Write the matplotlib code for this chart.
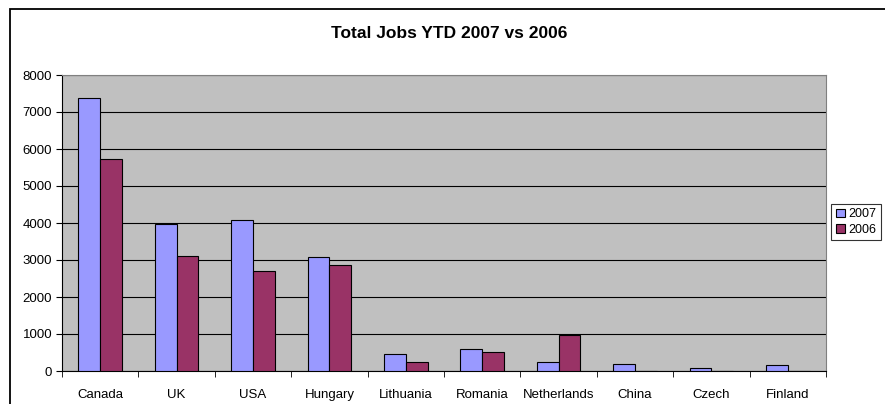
import numpy as np
import matplotlib.pyplot as plt
from matplotlib.patches import Rectangle

plt.rcParams['font.family'] = ['Liberation Sans', 'DejaVu Sans']

countries = ["Canada", "UK", "USA", "Hungary", "Lithuania", "Romania",
             "Netherlands", "China", "Czech", "Finland"]
jobs_2007 = [7370, 3970, 4090, 3080, 460, 590, 240, 200, 70, 170]
jobs_2006 = [5730, 3110, 2700, 2860, 240, 510, 970, 0, 0, 0]
series_labels = ["2007", "2006"]
yticks = [0, 1000, 2000, 3000, 4000, 5000, 6000, 7000, 8000]

W, H = 885, 404
fig = plt.figure(figsize=(W / 100, H / 100), dpi=100)
ax = fig.add_axes([62 / W, 1 - 371 / H, (826 - 62) / W, (371 - 75) / H])

# outer chart frame (cut off at right/bottom like the reference)
fig.patches.append(Rectangle((9.5 / W, -0.1), 1.2, 1 - 8.5 / H + 0.1,
                             transform=fig.transFigure, fill=False,
                             edgecolor="black", lw=1.3))

x = np.arange(len(countries))
bw = 1 / 3.5
ax.set_facecolor("#C0C0C0")
ax.bar(x - bw / 2, jobs_2007, bw, color="#9999FF", edgecolor="black",
       lw=0.8, label=series_labels[0], zorder=3)
ax.bar(x + bw / 2, jobs_2006, bw, color="#993366", edgecolor="black",
       lw=0.8, label=series_labels[1], zorder=3)

ax.set_xlim(-0.5, len(countries) - 0.5)
ax.set_ylim(0, 8000)
ax.set_yticks(yticks)
ax.yaxis.grid(True, color="black", lw=0.8, zorder=1)
ax.set_axisbelow(True)
ax.set_xticks(x)
ax.set_xticklabels(countries, fontsize=9.5)
ax.set_xticks(np.arange(-0.5, len(countries)), minor=True)
ax.tick_params(axis="x", which="major", length=0, pad=13)
ax.tick_params(axis="x", which="minor", length=4, direction="out")
ax.tick_params(axis="y", labelsize=9.5, length=4, direction="out", pad=3)

for s in ["top", "right"]:
    ax.spines[s].set_color("#808080")
for s in ["left", "bottom"]:
    ax.spines[s].set_color("black")

fig.text(449.5 / W, 1 - 34 / H, "Total Jobs YTD 2007 vs 2006", ha="center",
         va="center", fontsize=12.5, fontweight="bold")

leg = fig.legend(loc="center", bbox_to_anchor=(856 / W, 1 - 222 / H),
                 fontsize=9, frameon=True, fancybox=False, edgecolor="black",
                 handlelength=0.7, handleheight=0.7, handletextpad=0.3,
                 borderpad=0.35, labelspacing=0.25, borderaxespad=0)
leg.get_frame().set_linewidth(0.8)

fig.savefig("out.png", dpi=100)
